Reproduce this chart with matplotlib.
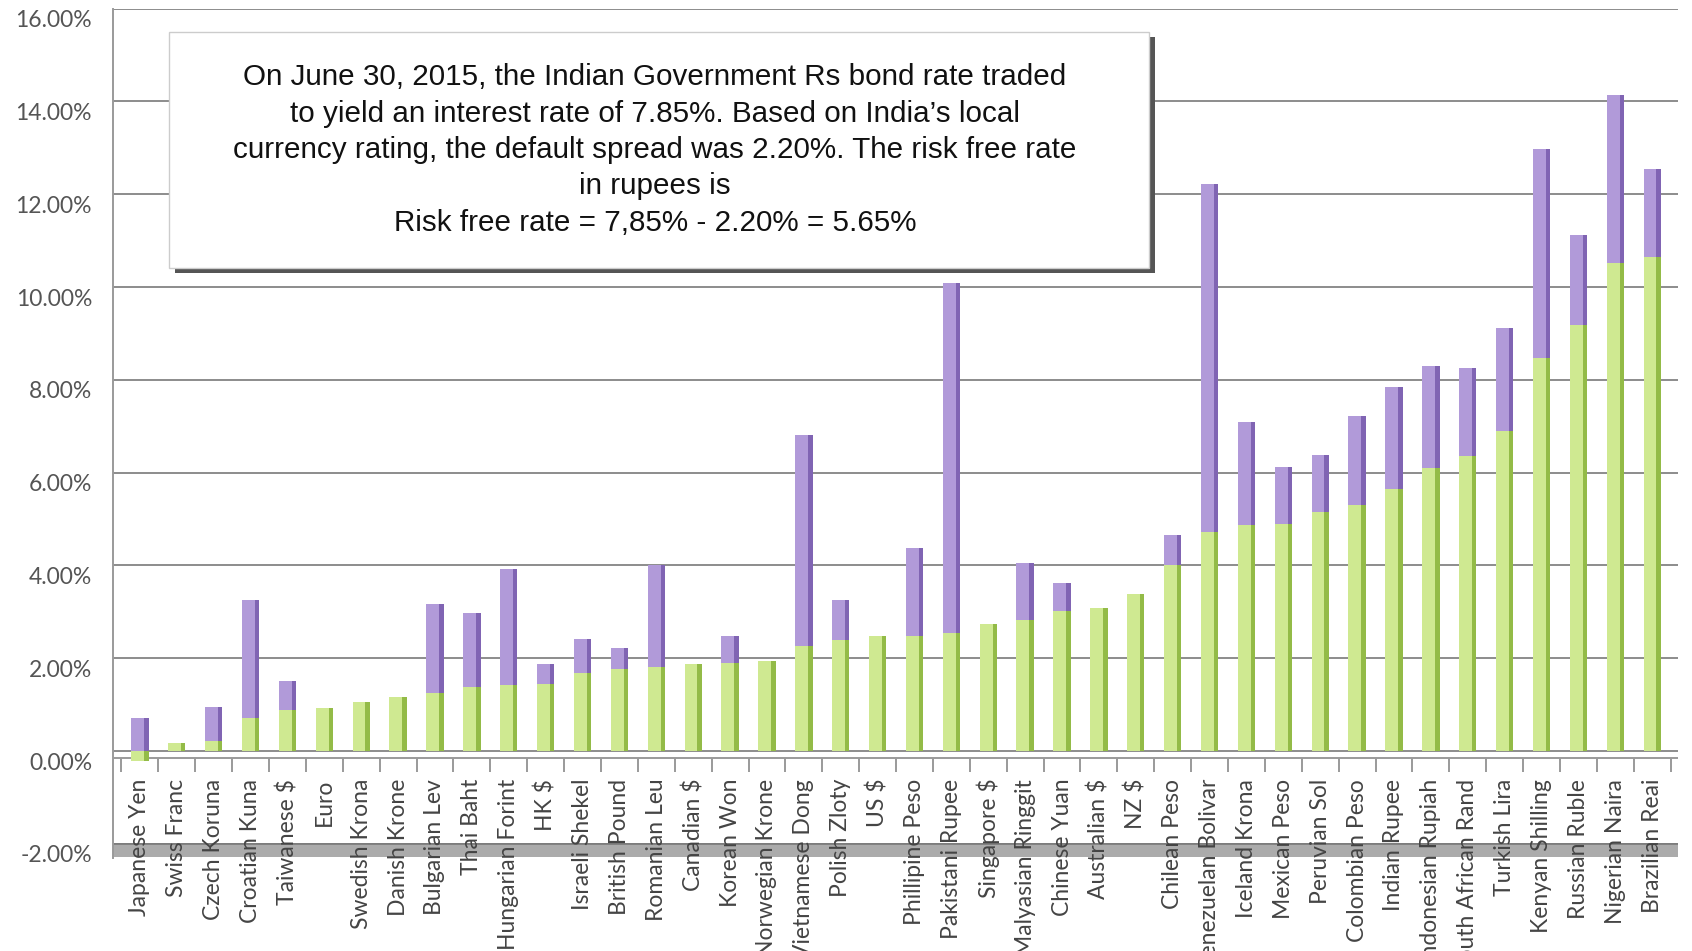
import numpy as np
import matplotlib
matplotlib.use('Agg')
import matplotlib.pyplot as plt
import matplotlib.transforms as mtransforms
from matplotlib.patches import Rectangle

currencies = ['Japanese Yen', 'Swiss Franc', 'Czech Koruna', 'Croatian Kuna', 'Taiwanese $', 'Euro',
              'Swedish Krona', 'Danish Krone', 'Bulgarian Lev', 'Thai Baht', 'Hungarian Forint', 'HK $',
              'Israeli Shekel', 'British Pound', 'Romanian Leu', 'Canadian $', 'Korean Won',
              'Norwegian Krone', 'Vietnamese Dong', 'Polish Zloty', 'US $', 'Phillipine Peso',
              'Pakistani Rupee', 'Singapore $', 'Malyasian Ringgit', 'Chinese Yuan', 'Australian $',
              'NZ $', 'Chilean Peso', 'Venezuelan Bolivar', 'Iceland Krona', 'Mexican Peso',
              'Peruvian Sol', 'Colombian Peso', 'Indian Rupee', 'Indonesian Rupiah',
              'South African Rand', 'Turkish Lira', 'Kenyan Shilling', 'Russian Ruble',
              'Nigerian Naira', 'Brazilian Reai']

# risk free rate (green) and default spread (purple), in %
riskfree = [-0.22, 0.18, 0.22, 0.72, 0.88, 0.92, 1.05, 1.17, 1.24, 1.37, 1.42, 1.44,
            1.69, 1.76, 1.80, 1.87, 1.89, 1.94, 2.26, 2.39, 2.48, 2.48,
            2.54, 2.73, 2.82, 3.02, 3.08, 3.38, 4.00, 4.72, 4.88, 4.90,
            5.15, 5.30, 5.65, 6.09, 6.35, 6.89, 8.48, 9.18, 10.51, 10.65]
spread = [0.72, 0.0, 0.72, 2.54, 0.63, 0.0, 0.0, 0.0, 1.92, 1.61, 2.51, 0.43,
          0.72, 0.45, 2.20, 0.0, 0.59, 0.0, 4.56, 0.86, 0.0, 1.90,
          7.55, 0.0, 1.24, 0.61, 0.0, 0.0, 0.65, 7.51, 2.22, 1.23,
          1.22, 1.91, 2.20, 2.20, 1.91, 2.22, 4.50, 1.94, 3.62, 1.90]

yticks = [-2, 0, 2, 4, 6, 8, 10, 12, 14, 16]

note = ("On June 30, 2015, the Indian Government Rs bond rate traded\n"
        "to yield an interest rate of 7.85%. Based on India\u2019s local\n"
        "currency rating, the default spread was 2.20%. The risk free rate\n"
        "in rupees is\n"
        "Risk free rate = 7,85% - 2.20% = 5.65%")

W, H = 1692, 951
fig = plt.figure(figsize=(W / 100, H / 100), dpi=100)
ax = fig.add_axes([113 / W, 1 - 857.7 / H, (1678 - 113) / W, (857.7 - 8.6) / H])

x = np.arange(len(currencies))
rf = np.array(riskfree)
sp = np.array(spread)
bw = 0.47
edge_w = 0.12

green_light, green_dark = '#cfe991', '#93bb47'
purple_light, purple_dark = '#b19ad9', '#8064b3'

ax.bar(x, rf, width=bw, color=green_light, zorder=3)
ax.bar(x + bw / 2 - edge_w / 2, rf, width=edge_w, color=green_dark, zorder=3)
base = np.maximum(rf, 0)
ax.bar(x, sp, bottom=base, width=bw, color=purple_light, zorder=3)
ax.bar(x + bw / 2 - edge_w / 2, sp, bottom=base, width=edge_w, color=purple_dark, zorder=3)

ax.set_xlim(-0.73, len(currencies) - 1 + 0.7)
ax.set_ylim(-2.3, 16)
ax.set_yticks(yticks)
ax.yaxis.grid(True, color='#8c8c8c', linewidth=1.4, zorder=0)
ax.set_axisbelow(True)
ax.set_xticks([])
ax.tick_params(axis='y', length=0, labelleft=False)
for s in ['top', 'right', 'bottom']:
    ax.spines[s].set_visible(False)
ax.spines['left'].set_color('#9a9a9a')
ax.spines['left'].set_linewidth(1.4)

# floor band
ax.axhspan(-2.28, -2.0, color='#ababab', zorder=1, lw=0)
ax.axhline(-2.0, color='#7a7a7a', lw=1.2, zorder=1)

# category axis line with ticks
ax.axhline(-0.15, color='#9a9a9a', lw=1.4, zorder=2)
ax.vlines(np.arange(len(currencies) + 1) - 0.5, -0.45, -0.15, color='#9a9a9a', lw=1.4, zorder=2)

trans = mtransforms.blended_transform_factory(ax.transAxes, ax.transData)
for v in yticks:
    ax.text(-0.0134, v - 0.26, f'{v:.2f}%', transform=trans, ha='right', va='center',
            fontsize=16.5, color='#555555', family='Lato')

for i, name in enumerate(currencies):
    ax.text(i, -0.6, name, rotation=90, ha='center', va='top', fontsize=16.5,
            color='#444444', family='Lato', zorder=4, clip_on=False)

# note box with shadow
bx0, by0, bx1, by1 = 169, 32, 1149, 268
fig.patches.append(Rectangle(((bx0 + 6) / W, 1 - (by1 + 5) / H), (bx1 - bx0) / W, (by1 - by0) / H,
                             transform=fig.transFigure, facecolor='#555555', edgecolor='none', zorder=5))
fig.patches.append(Rectangle((bx0 / W, 1 - by1 / H), (bx1 - bx0) / W, (by1 - by0) / H,
                             transform=fig.transFigure, facecolor='white', edgecolor='#cccccc',
                             lw=1, zorder=6))
fig.text(655 / W, 1 - 150 / H, note, ha='center', va='center', fontsize=21.3, linespacing=1.38,
         family='Liberation Sans', color='#111111', zorder=7)

fig.savefig('out.png', dpi=100)
